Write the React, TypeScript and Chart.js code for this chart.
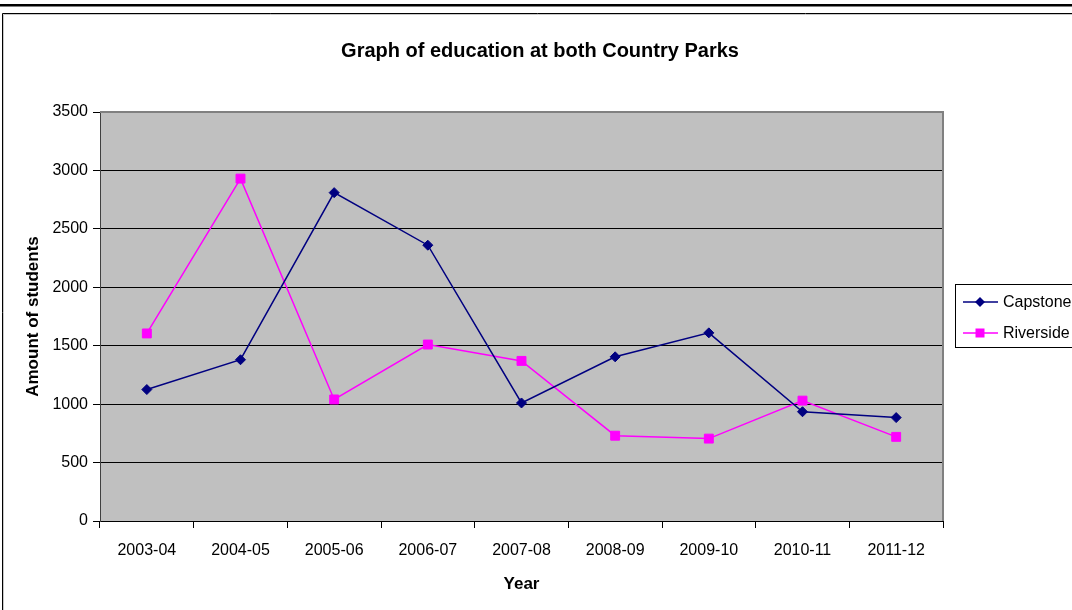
import React, { useEffect, useRef } from "react";
import { Chart, registerables } from "chart.js";

Chart.register(...registerables);

const categories = ["2003-04", "2004-05", "2005-06", "2006-07", "2007-08", "2008-09", "2009-10", "2010-11", "2011-12"];
const capstone = [1125, 1380, 2810, 2360, 1010, 1405, 1610, 935, 885];
const riverside = [1605, 2930, 1040, 1510, 1370, 730, 705, 1030, 720];
const seriesNames = ["Capstone", "Riverside"];
const seriesColors = ["#000080", "#FF00FF"];
const yTickValues = [0, 500, 1000, 1500, 2000, 2500, 3000, 3500];
const titleText = "Graph of education at both Country Parks";
const xTitle = "Year";
const yTitle = "Amount of students";

const FONT = "'Liberation Sans', Arial, sans-serif";

const framePlugin = {
  id: "frame",
  beforeDraw(chart: any) {
    const { ctx, chartArea, width, height } = chart;
    ctx.save();
    ctx.fillStyle = "#ffffff";
    ctx.fillRect(0, 0, width, height);
    ctx.fillStyle = "#000000";
    ctx.fillRect(0, 4, width, 2.5);
    ctx.strokeStyle = "#000000";
    ctx.lineWidth = 1;
    ctx.beginPath();
    ctx.moveTo(2.5, height + 5);
    ctx.lineTo(2.5, 13.5);
    ctx.lineTo(width + 5, 13.5);
    ctx.stroke();
    ctx.strokeStyle = "#c8c8c8";
    ctx.beginPath();
    ctx.moveTo(3.5, height + 5);
    ctx.lineTo(3.5, 14.5);
    ctx.lineTo(width + 5, 14.5);
    ctx.stroke();
    ctx.fillStyle = "#C0C0C0";
    ctx.fillRect(chartArea.left, chartArea.top, chartArea.right - chartArea.left, chartArea.bottom - chartArea.top);
    ctx.restore();
  },
  beforeDatasetsDraw(chart: any) {
    const { ctx, chartArea } = chart;
    ctx.save();
    ctx.strokeStyle = "#808080";
    ctx.lineWidth = 2;
    ctx.beginPath();
    ctx.moveTo(chartArea.left, chartArea.top);
    ctx.lineTo(chartArea.right, chartArea.top);
    ctx.lineTo(chartArea.right, chartArea.bottom);
    ctx.stroke();
    ctx.restore();
  },
  afterDraw(chart: any) {
    const { ctx } = chart;
    ctx.save();
    ctx.strokeStyle = "#000000";
    ctx.lineWidth = 1;
    ctx.strokeRect(955.5, 284.5, 200, 63);
    const rows = [302, 333];
    chart.data.datasets.forEach((ds: any, i: number) => {
      const y = rows[i];
      ctx.strokeStyle = ds.borderColor;
      ctx.lineWidth = 1.5;
      ctx.beginPath();
      ctx.moveTo(963, y);
      ctx.lineTo(998, y);
      ctx.stroke();
      ctx.fillStyle = ds.backgroundColor;
      ctx.beginPath();
      if (ds.pointStyle === "rectRot") {
        const r = 5;
        ctx.moveTo(980 - r, y);
        ctx.lineTo(980, y - r);
        ctx.lineTo(980 + r, y);
        ctx.lineTo(980, y + r);
        ctx.closePath();
      } else {
        ctx.rect(980 - 4.5, y - 4.5, 9, 9);
      }
      ctx.fill();
      ctx.fillStyle = "#000000";
      ctx.font = `16px ${FONT}`;
      ctx.textBaseline = "middle";
      ctx.textAlign = "left";
      ctx.fillText(ds.label, 1003, y + 1);
    });
    ctx.restore();
  },
};

export default function App() {
  const ref = useRef<HTMLCanvasElement | null>(null);
  useEffect(() => {
    document.body.style.margin = "0";
    const canvas = ref.current!;
    const chart = new Chart(canvas, {
      type: "line",
      data: {
        labels: categories,
        datasets: [
          {
            label: seriesNames[0],
            data: capstone,
            borderColor: seriesColors[0],
            backgroundColor: seriesColors[0],
            borderWidth: 1.5,
            pointStyle: "rectRot",
            pointRadius: 5,
            pointBorderWidth: 1,
            tension: 0,
          },
          {
            label: seriesNames[1],
            data: riverside,
            borderColor: seriesColors[1],
            backgroundColor: seriesColors[1],
            borderWidth: 1.5,
            pointStyle: "rect",
            pointRadius: 6.3,
            pointBorderWidth: 1,
            tension: 0,
          },
        ],
      },
      options: {
        responsive: false,
        animation: false,
        devicePixelRatio: 1,
        layout: { padding: { left: 8, right: 0, top: 20, bottom: 10 } },
        plugins: {
          legend: { display: false },
          tooltip: { enabled: false },
          title: {
            display: true,
            text: titleText,
            color: "#000",
            font: { family: FONT, size: 20, weight: "bold" },
            padding: { top: 19, bottom: 49 },
          },
        },
        scales: {
          x: {
            offset: true,
            afterFit(scale: any) {
              scale.height = 79;
            },
            grid: {
              drawOnChartArea: false,
              drawTicks: true,
              tickLength: 7,
              color: "#000",
              offset: true,
            },
            border: { display: true, color: "#000", width: 1 },
            ticks: {
              color: "#000",
              font: { family: FONT, size: 16 },
              padding: 13,
              maxRotation: 0,
              autoSkip: false,
            },
            title: {
              display: true,
              text: xTitle,
              color: "#000",
              font: { family: FONT, size: 17, weight: "bold" },
              padding: { top: 0, bottom: 5 },
            },
          },
          y: {
            min: 0,
            max: 3500,
            afterFit(scale: any) {
              scale.width = 92;
            },
            afterBuildTicks(scale: any) {
              scale.ticks = yTickValues.map((v) => ({ value: v }));
            },
            grid: {
              color: "#000",
              lineWidth: 1,
              tickLength: 7,
              drawTicks: true,
            },
            border: { display: true, color: "#404040", width: 1 },
            ticks: {
              color: "#000",
              font: { family: FONT, size: 16 },
              padding: 5,
              callback: (v: any) => String(v),
            },
            title: {
              display: true,
              text: yTitle,
              color: "#000",
              font: { family: FONT, size: 17, weight: "bold" },
              padding: { top: 15, bottom: 0 },
            },
          },
          legendSpace: {
            type: "linear",
            position: "right",
            display: true,
            afterFit(scale: any) {
              scale.width = 129;
            },
            grid: { display: false, drawTicks: false },
            border: { display: false },
            ticks: { display: false },
          },
        },
      },
      plugins: [framePlugin],
    } as any);
    return () => chart.destroy();
  }, []);
  return (
    <div style={{ position: "fixed", left: 0, top: 0, width: 1072, height: 610 }}>
      <canvas ref={ref} width={1072} height={610} style={{ width: 1072, height: 610, display: "block" }} />
    </div>
  );
}
